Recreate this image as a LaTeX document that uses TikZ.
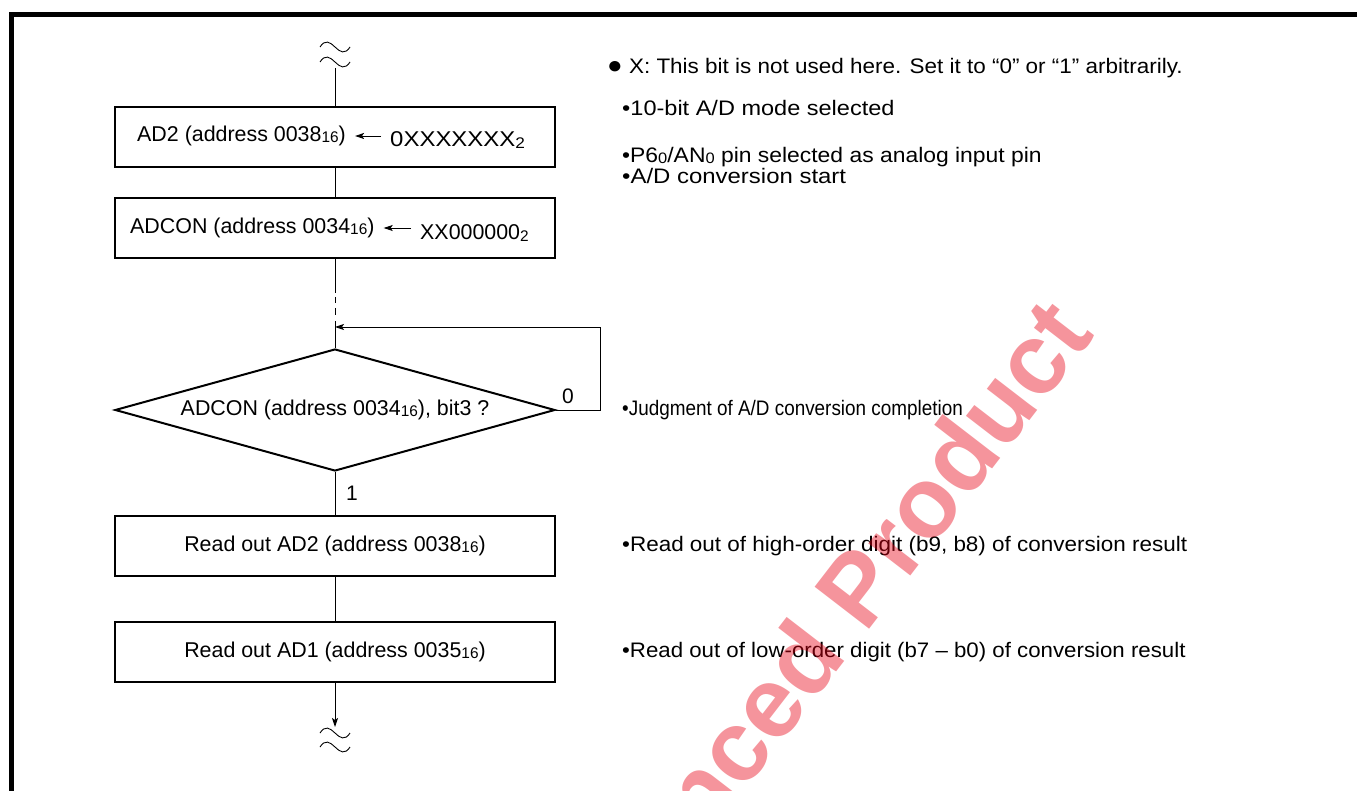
\documentclass[tikz,border=0pt]{standalone}
\usepackage{fontspec}
\setmainfont{Liberation Sans}
\usetikzlibrary{shapes.geometric,arrows.meta}
\newcommand\lo[1]{\raisebox{-0.06em}{\scalebox{0.72}{#1}}}
\newcommand\sx[2]{\scalebox{#1}[1]{#2}}
\definecolor{wmred}{RGB}{232,0,20}
\begin{document}
\begin{tikzpicture}[x=1pt,y=-1pt,
  box/.style={draw, line width=2pt, minimum width=440pt, minimum height=60pt, inner sep=0pt, font=\fontsize{21.4}{25}\selectfont},
  dec/.style={draw, diamond, line width=2pt, aspect=3.6, minimum width=440pt, minimum height=122pt, inner sep=0pt, font=\fontsize{21.4}{25}\selectfont},
  txt/.style={anchor=west, inner sep=0pt, font=\fontsize{21.4}{25}\selectfont},
  note/.style={anchor=west, inner sep=0pt, font=\fontsize{21}{24}\selectfont},
  conn/.style={line width=0.9pt},
  tip/.tip={Stealth[length=9pt,width=6pt,inset=2pt]},
  wave/.style={line width=0.9pt}]
\useasboundingbox (0,0) rectangle (1357,791);
\fill[white] (0,0) rectangle (1357,791);
% frame
\draw[line width=5pt] (11.5,791) -- (11.5,14.5) -- (1357,14.5);
% boxes
\node[box] (b1) at (335,137.5) {};
\node[txt] (b1l) at (137,136) {AD2 (address 0038\lo{16})};
\node[txt] (b1r) at (390,140) {\sx{1.12}{0XXXXXXX\lo{2}}};
\draw[conn,-tip,shorten <=9pt,shorten >=9pt] (b1r.west |- b1l.east) -- (b1l.east);
\node[box] (b2) at (335,228) {};
\node[txt] (b2l) at (130,228) {ADCON (address 0034\lo{16})};
\node[txt] (b2r) at (420,233) {XX000000\lo{2}};
\draw[conn,-tip,shorten <=9pt,shorten >=9pt] (b2r.west |- b2l.east) -- (b2l.east);
\node[dec] (d) at (335,410) {ADCON (address 0034\lo{16}), bit3 ?};
\node[box] (b3) at (335,546) {Read out AD2 (address 0038\lo{16})};
\node[box] (b4) at (335,652) {Read out AD1 (address 0035\lo{16})};
% labels
\node[font=\fontsize{21}{24}\selectfont, inner sep=0pt] (l0) at (568,396) {0};
\node[font=\fontsize{21}{24}\selectfont, inner sep=0pt] (l1) at (352,493) {1};
% connectors
\coordinate (top) at (335,68);
\coordinate (da) at (335,293);
\coordinate (db) at (335,321);
\coordinate (join) at (335,327);
\coordinate (loopc) at (600,327);
\coordinate (bot) at (335,727);
\draw[conn] (top) -- (b1.north);
\draw[conn] (b1.south) -- (b2.north);
\draw[conn] (b2.south) -- (da);
\draw[conn, dash pattern=on 0pt off 4pt on 6pt off 5pt on 7pt off 6pt] (da) -- (db);
\draw[conn] (db) -- (d.north);
\draw[conn,-tip] (d.east) -| (loopc) -- (join);
\draw[conn] (d.south) -- (b3.north);
\draw[conn] (b3.south) -- (b4.north);
\draw[conn,-tip] (b4.south) -- (bot);
% break marks
\foreach \y in {47,62,733,747}
  \draw[wave] (320,\y) .. controls (325,\y-8) and (330,\y-5) .. (335,\y) .. controls (340,\y+5) and (345,\y+8) .. (350,\y);
% notes
\node[note] (n0) at (607,68) {\sx{1.07}{\scalebox{1.15}{●} X: This bit is not used here. Set it to “0” or “1” arbitrarily.}};
\node[note] (n1) at (622,108) {\sx{1.12}{•10-bit A/D mode selected}};
\node[note] (n2) at (622,157) {\sx{1.09}{•P6\lo{0}/AN\lo{0} pin selected as analog input pin}};
\node[note] (n3) at (622,176) {\sx{1.14}{•A/D conversion start}};
\node[note] (n4) at (622,410) {\sx{0.9}{•Judgment of A/D conversion completion}};
\node[note] (n5) at (622,546) {\sx{1.07}{•Read out of high-order digit (b9, b8) of conversion result}};
\node[note] (n6) at (622,652) {\sx{1.06}{•Read out of low-order digit (b7 – b0) of conversion result}};
% watermark
\begin{scope}
\clip (0,0) rectangle (1357,791);
\node[rotate=52.4, text=wmred, text opacity=0.42, inner sep=0pt, font=\fontsize{100}{100}\selectfont\bfseries] (wm) at (873,566) {nced Product};
\end{scope}
\end{tikzpicture}
\end{document}
